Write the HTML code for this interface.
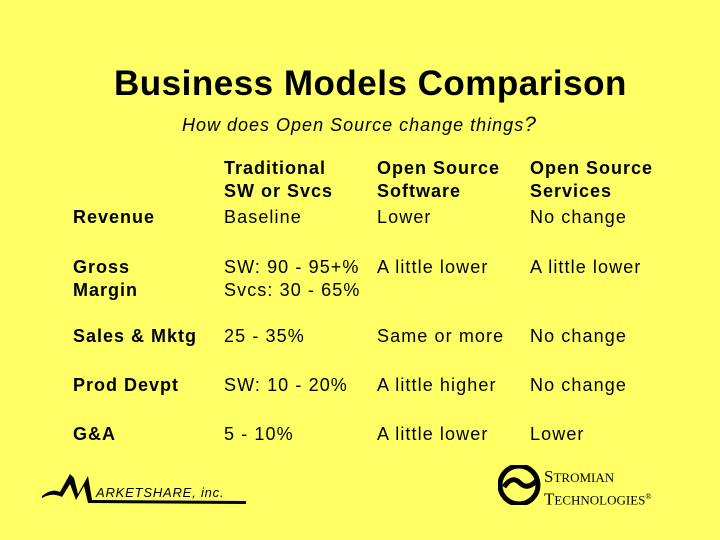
<!DOCTYPE html>
<html><head><meta charset="utf-8"><style>
body{margin:0;width:720px;height:540px;background:#ffff66;font-family:"Liberation Sans",sans-serif;position:relative;overflow:hidden}
.t{position:absolute;white-space:nowrap;color:#000}
.h{font-weight:bold;font-size:18px;line-height:23px;letter-spacing:1px}
.c{font-size:18px;line-height:23px;letter-spacing:1.1px}
</style></head><body>
<div class="t" style="left:114px;top:64px;font-size:35px;font-weight:bold;letter-spacing:0.5px">Business Models Comparison</div>
<div class="t" style="left:182px;top:113px;font-size:18px;font-style:italic;letter-spacing:1px">How does Open Source change things<span style="font-size:21px">?</span></div>

<div class="t h" style="left:224px;top:157px">Traditional<br>SW or Svcs</div>
<div class="t h" style="left:377px;top:157px">Open Source<br>Software</div>
<div class="t h" style="left:530px;top:157px">Open Source<br>Services</div>

<div class="t h" style="left:73px;top:206px">Revenue</div>
<div class="t c" style="left:224px;top:206px">Baseline</div>
<div class="t c" style="left:377px;top:206px">Lower</div>
<div class="t c" style="left:530px;top:206px">No change</div>

<div class="t h" style="left:73px;top:256px">Gross<br>Margin</div>
<div class="t c" style="left:224px;top:256px">SW: 90 - 95+%<br>Svcs: 30 - 65%</div>
<div class="t c" style="left:377px;top:256px">A little lower</div>
<div class="t c" style="left:530px;top:256px">A little lower</div>

<div class="t h" style="left:73px;top:325px">Sales &amp; Mktg</div>
<div class="t c" style="left:224px;top:325px">25 - 35%</div>
<div class="t c" style="left:377px;top:325px">Same or more</div>
<div class="t c" style="left:530px;top:325px">No change</div>

<div class="t h" style="left:73px;top:374px">Prod Devpt</div>
<div class="t c" style="left:224px;top:374px">SW: 10 - 20%</div>
<div class="t c" style="left:377px;top:374px">A little higher</div>
<div class="t c" style="left:530px;top:374px">No change</div>

<div class="t h" style="left:73px;top:423px">G&amp;A</div>
<div class="t c" style="left:224px;top:423px">5 - 10%</div>
<div class="t c" style="left:377px;top:423px">A little lower</div>
<div class="t c" style="left:530px;top:423px">Lower</div>

<svg style="position:absolute;left:40px;top:470px" width="210" height="40">
<path d="M2 26 Q12 18 20 22 L30 4 L34 8 L38 24 L48 6 L52 30 L206 31 L206 34 L48 33 L44 16 L36 30 L30 14 L22 27 Q12 22 2 28 Z" fill="#000"/>
<text x="56" y="27" font-family="Liberation Sans" font-size="13" font-style="italic" letter-spacing="0.8">ARKETSHARE, inc.</text>
</svg>
<svg style="position:absolute;left:498px;top:465px" width="45" height="40">
<ellipse cx="21" cy="20" rx="19" ry="19" fill="none" stroke="#000" stroke-width="5"/>
<path d="M6 22 Q14 10 22 18 Q30 26 40 14" stroke="#000" stroke-width="5" fill="none"/>
</svg>
<div class="t" style="left:544px;top:467px;font-family:'Liberation Serif',serif;font-size:13px;line-height:19px">
<span style="font-size:17px">S</span>TROMIAN<br><span style="font-size:17px">T</span>ECHNOLOGIES<sup style="font-size:8px">®</sup></div>
</body></html>
